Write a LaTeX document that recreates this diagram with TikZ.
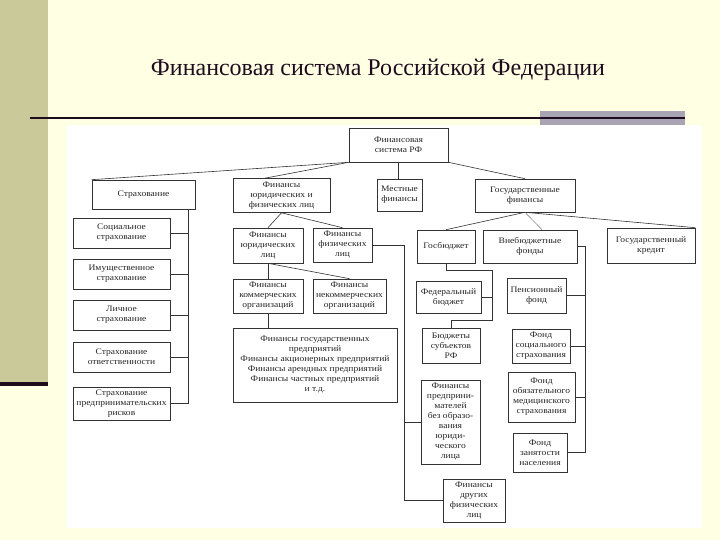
\documentclass[tikz,border=0pt]{standalone}
\usepackage{fontspec}
\setmainfont{Liberation Serif}
\newfontfamily\wideserif{Liberation Serif}[FakeStretch=1.12]
\usepackage{tikz}
\usetikzlibrary{positioning, calc}

\definecolor{cream}{HTML}{FFFFE3}
\definecolor{olive}{HTML}{C9C99A}
\definecolor{mauve}{HTML}{A9A4B3}
\definecolor{ink}{HTML}{1E0C1E}

\begin{document}
\begin{tikzpicture}[
  x=1pt, y=-1pt,
  blk/.style={draw=black!80, line width=0.6pt, fill=white, align=center, inner sep=1pt,
    font=\wideserif\fontsize{8.5}{10}\selectfont, text=black!85},
  ln/.style={draw=black!80, line width=0.6pt}
  ]
  % slide background
  \fill[cream] (0,0) rectangle (720,540);
  \useasboundingbox (0,0) rectangle (720,540);
  \fill[olive] (0,0) rectangle (48,382);
  \fill[ink] (0,382) rectangle (48,386);
  \fill[mauve] (540,111) rectangle (685,126);
  \draw[ink, line width=2.2pt] (30,118) -- (685,118);
  \node[ink, font=\fontsize{24}{27}\selectfont] (title) at (378,70)
    {Финансовая система Российской Федерации};
  \fill[white] (67,125) rectangle (702,528);

  % top levels
  \node[blk, minimum width=99, minimum height=34] (fs) at (398.5,145) {Финансовая\\система РФ};
  \node[blk, minimum width=103, minimum height=29] (strah) at (143.5,194.5) {Страхование};
  \node[blk, minimum width=97, minimum height=34] (fjf) at (281.5,195.5) {Финансы\\юридических и\\физических лиц};
  \node[blk, minimum width=45, minimum height=32] (mest) at (399.5,195) {Местные\\финансы};
  \node[blk, minimum width=100, minimum height=33] (gosfin) at (525,195.5) {Государственные\\финансы};

  % insurance
  \node[blk, minimum width=97, minimum height=30] (soc) at (121.5,233) {Социальное\\страхование};
  \node[blk, minimum width=97, minimum height=30] (imu) at (121.5,274) {Имущественное\\страхование};
  \node[blk, minimum width=97, minimum height=30] (lich) at (121.5,315) {Личное\\страхование};
  \node[blk, minimum width=97, minimum height=30] (otv) at (121.5,357) {Страхование\\ответственности};
  \node[blk, minimum width=97, minimum height=33] (pred) at (121.5,403.5) {Страхование\\предпринимательских\\рисков};

  % legal and physical persons
  \node[blk, minimum width=70, minimum height=35] (fjl) at (268,245.5) {Финансы\\юридических\\лиц};
  \node[blk, minimum width=59, minimum height=34] (ffl) at (342.5,245) {Финансы\\физических\\лиц};
  \node[blk, minimum width=70, minimum height=34] (fko) at (268,296) {Финансы\\коммерческих\\организаций};
  \node[blk, minimum width=73, minimum height=34] (fnk) at (349.5,296) {Финансы\\некоммерческих\\организаций};
  \node[blk, minimum width=164, minimum height=74] (fgp) at (315,365)
    {Финансы государственных\\предприятий\\Финансы акционерных предприятий\\Финансы арендных предприятий\\Финансы частных предприятий\\и т.д.};
  \node[blk, minimum width=59, minimum height=84] (fpr) at (450.5,422)
    {Финансы\\предприни-\\мателей\\без образо-\\вания\\юриди-\\ческого\\лица};
  \node[blk, minimum width=62, minimum height=43] (fdf) at (474,500.5) {Финансы\\других\\физических\\лиц};

  % state finance
  \node[blk, minimum width=58, minimum height=33] (gb) at (446,246.5) {Госбюджет};
  \node[blk, minimum width=94, minimum height=33] (vnb) at (530,246.5) {Внебюджетные\\фонды};
  \node[blk, minimum width=88, minimum height=35] (gk) at (651,245.5) {Государственный\\кредит};
  \node[blk, minimum width=65, minimum height=32] (fb) at (448.5,297) {Федеральный\\бюджет};
  \node[blk, minimum width=58, minimum height=35] (bs) at (451,345.5) {Бюджеты\\субъектов\\РФ};
  \node[blk, minimum width=59, minimum height=35] (pf) at (536.5,295.5) {Пенсионный\\фонд};
  \node[blk, minimum width=58, minimum height=34] (fss) at (541,346) {Фонд\\социального\\страхования};
  \node[blk, minimum width=67, minimum height=50] (foms) at (541.5,397) {Фонд\\обязательного\\медицинского\\страхования};
  \node[blk, minimum width=54, minimum height=39] (fzn) at (540,452.5) {Фонд\\занятости\\населения};

  % bracket lines
  \coordinate (sbar) at (188,0);
  \coordinate (fbar) at (404,0);
  \coordinate (g1) at (492,270);
  \coordinate (g2) at (492,320);
  \coordinate (vbar) at (585,0);

  \draw[ln] (fs.south west) -- (strah.north west);
  \draw[ln] (fs.south west) -- ($(fjf.north west)!0.33!(fjf.north east)$);
  \draw[ln] (fs.south) -- (fs.south |- mest.north);
  \draw[ln] (fs.south east) -- (gosfin.north);
  \draw[ln] (gosfin.south) -- (gb.north);
  \draw[ln, black!45] (gosfin.south) -- ($(vnb.north)+(12,0)$);
  \draw[ln] (gosfin.south) -- (gk.north east);
  \draw[ln] (fjf.south) -- (fjl.north);
  \draw[ln] (fjf.south) -- (ffl.north);
  \draw[ln] (fjl.south) -- (fko.north);
  \draw[ln] (fjl.south) -- (fnk.north);
  \draw[ln] (fko.south) -- (fko.south |- fgp.north);

  \draw[ln] (strah.south -| sbar) |- (pred.east);
  \foreach \b in {soc, imu, lich, otv}
    \draw[ln] (\b.east) -- (\b.east -| sbar);

  \draw[ln] (ffl.east) -- (ffl.east -| fbar) |- (fdf.west);
  \draw[ln] (fpr.west) -- (fpr.west -| fbar);

  \draw[ln] (gb.south) |- (g1) -- (g2) -| (bs.north);
  \draw[ln] (fb.east) -- (fb.east -| g1);

  \draw[ln] (vnb.east) -- (vnb.east -| vbar) |- (fzn.east);
  \foreach \b in {pf, fss, foms}
    \draw[ln] (\b.east) -- (\b.east -| vbar);
\end{tikzpicture}
\end{document}
